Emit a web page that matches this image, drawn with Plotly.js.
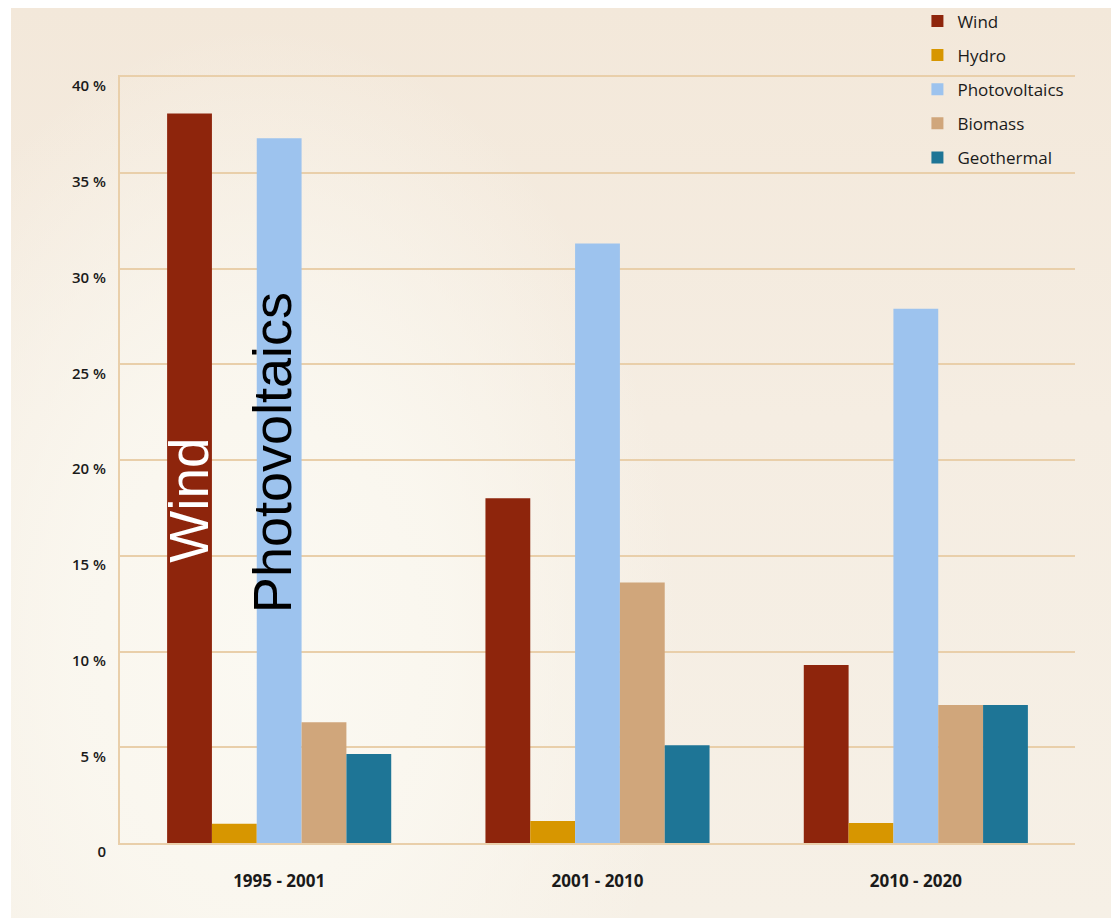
<!DOCTYPE html>
<html>
<head>
<meta charset="utf-8">
<script src="https://cdn.plot.ly/plotly-3.0.1.min.js"></script>
<style>
  html, body { margin: 0; padding: 0; background: #ffffff; }
  #bg {
    position: absolute; left: 11px; top: 8px; width: 1100px; height: 910px;
    background:
      radial-gradient(ellipse 420px 620px at 250px 640px, rgba(251,249,242,1) 0%, rgba(250,247,239,0.95) 45%, rgba(250,247,239,0) 100%),
      linear-gradient(180deg, #f3e8da 0%, #f5ede2 45%, #f6f0e6 100%);
  }
  #chart { position: absolute; left: 0; top: 0; width: 1111px; height: 918px; }
</style>
</head>
<body>
<div id="bg"></div>
<div id="chart"></div>
<script>
// Share of growth by renewable source, per period (percent)
const periods = ['1995 - 2001', '2001 - 2010', '2010 - 2020'];
const wind = [38.1, 18.0, 9.3];
const hydro = [1.0, 1.15, 1.05];
const photovoltaics = [36.8, 31.3, 27.9];
const biomass = [6.3, 13.6, 7.2];
const geothermal = [4.65, 5.1, 7.2];

const yTickVals = [0, 5, 10, 15, 20, 25, 30, 35, 40];
const yTickText = ['0', '5 %', '10 %', '15 %', '20 %', '25 %', '30 %', '35 %', '40 %'];

const series = [
  { name: 'Wind', values: wind, color: '#8e250c' },
  { name: 'Hydro', values: hydro, color: '#d79600' },
  { name: 'Photovoltaics', values: photovoltaics, color: '#9dc3ee' },
  { name: 'Biomass', values: biomass, color: '#d0a67b' },
  { name: 'Geothermal', values: geothermal, color: '#1e7596' }
];

const barGap = 0.296;
const groupWidth = 1 - barGap;
const barWidth = groupWidth / series.length;
// centre offset of the n-th bar inside its group
const barOffset = n => -groupWidth / 2 + barWidth * (n + 0.5);

const traces = series.map((s, i) => ({
  type: 'bar',
  name: s.name,
  x: periods,
  y: s.values,
  legendgroup: 'g' + i,
  marker: { color: s.color, line: { width: 0 } },
  hoverinfo: 'name+y'
}));

const gridColor = '#e9cfaa';
const labelFont = { family: 'Open Sans, Liberation Sans, sans-serif', size: 15, color: '#1a1a1a', weight: 600 };

const layout = {
  width: 1111,
  height: 918,
  margin: { l: 120, r: 36, t: 77, b: 75, autoexpand: false },
  paper_bgcolor: 'rgba(0,0,0,0)',
  plot_bgcolor: 'rgba(0,0,0,0)',
  barmode: 'group',
  bargap: barGap,
  bargroupgap: 0,
  showlegend: true,
  legend: {
    x: 0.835, xanchor: 'left',
    y: 1.096, yanchor: 'top',
    bgcolor: 'rgba(0,0,0,0)',
    traceorder: 'grouped',
    tracegroupgap: 9,
    font: { family: 'Open Sans, Liberation Sans, sans-serif', size: 17, color: '#1a1a1a' }
  },
  xaxis: {
    type: 'category',
    range: [-0.5, 2.5],
    showgrid: false,
    showline: true,
    mirror: true,
    linecolor: gridColor,
    linewidth: 2,
    ticks: '',
    ticklabelstandoff: 22,
    tickfont: Object.assign({}, labelFont, { size: 17, weight: 'bold' }),
    zeroline: false
  },
  yaxis: {
    range: [0, 40],
    tickvals: yTickVals,
    ticktext: yTickText,
    showgrid: true,
    gridcolor: gridColor,
    gridwidth: 2,
    showline: true,
    linecolor: gridColor,
    linewidth: 2,
    zeroline: false,
    ticks: '',
    ticklabelstandoff: 9,
    ticklabelshift: 9,
    tickfont: labelFont
  },
  annotations: [
    {
      xref: 'x', yref: 'y',
      x: 0 + barOffset(0), y: 17.9,
      text: 'Wind', textangle: -90, showarrow: false,
      font: { family: 'Liberation Sans, Arial, sans-serif', size: 55, color: '#ffffff' }
    },
    {
      xref: 'x', yref: 'y',
      x: 0 + barOffset(2) - 0.02, y: 20.4,
      text: 'Photovoltaics', textangle: -90, showarrow: false,
      font: { family: 'Liberation Sans, Arial, sans-serif', size: 54, color: '#000000' }
    }
  ]
};

Plotly.newPlot('chart', traces, layout, { displayModeBar: false, staticPlot: true });
</script>
</body>
</html>
